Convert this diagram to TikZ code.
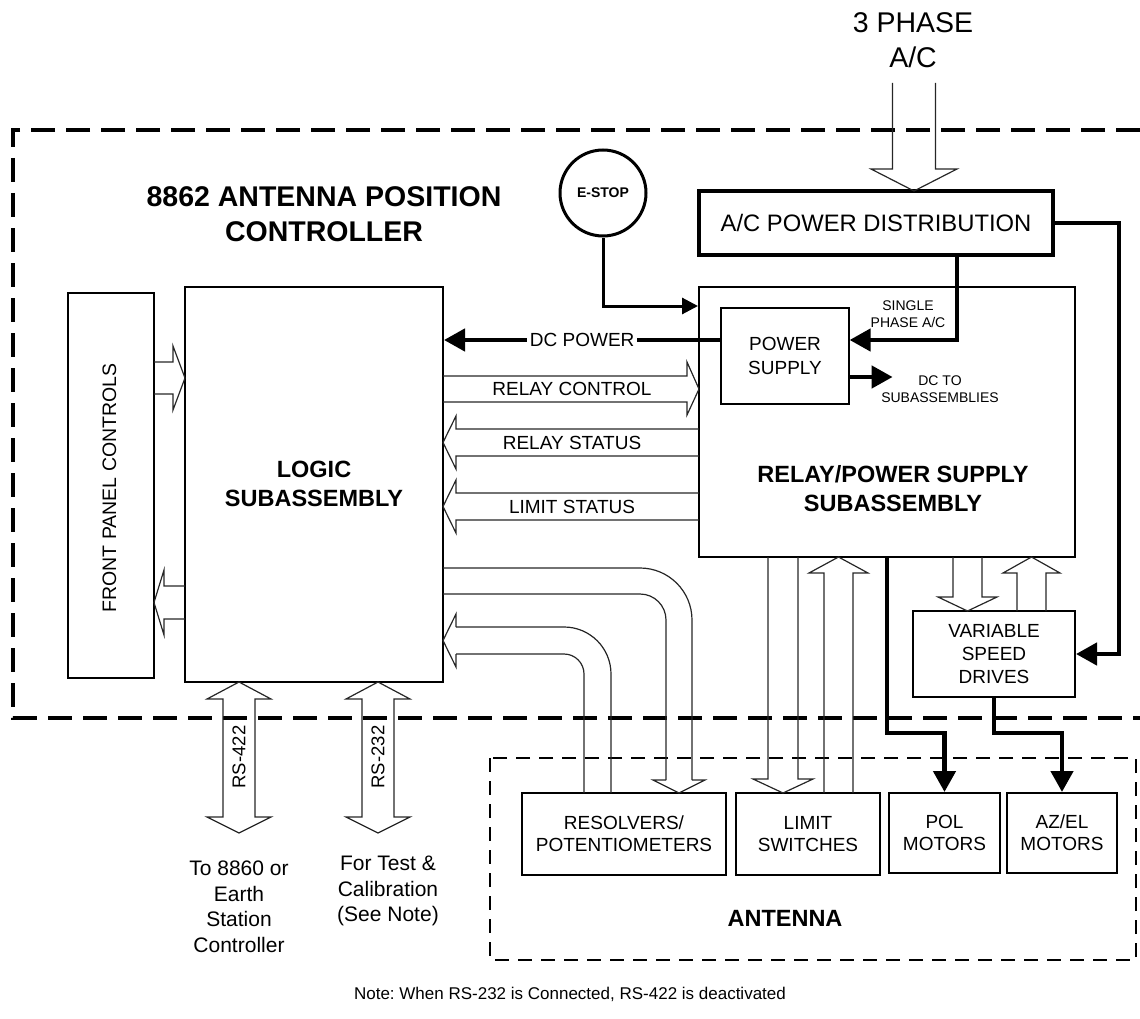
\documentclass[tikz,border=0pt]{standalone}
\usepackage{fontspec}
\setmainfont{Liberation Sans}
\usetikzlibrary{arrows.meta}
\newcommand{\fsz}[2]{\fontsize{#1}{#2}\selectfont}
\frenchspacing
\begin{document}
\begin{tikzpicture}[x=1pt,y=-1pt,
  box/.style={draw, line width=2pt, inner sep=0pt, align=center},
  hol/.style={draw=black!85, line width=1.2pt, line join=miter},
  pwr/.style={line width=4.5pt, -{Triangle[length=21pt,width=22pt]}},
  lbl/.style={inner sep=0pt, align=center},
  txt/.style={lbl, font=\fsz{19}{23}},
  btxt/.style={lbl, font=\bfseries\fsz{23.5}{29}}
]
\useasboundingbox (0,0) rectangle (1140,1019);

% enclosures
\draw[line width=3.5pt, dash pattern=on 24pt off 11pt] (1140,130) -- (13,130) -- (13,718) -- (1140,718);
\draw[line width=2pt, dash pattern=on 14pt off 9pt] (490,758) rectangle (1136,960);

% boxes
\node[box, line width=3.5pt, minimum width=354pt, minimum height=64pt, font=\fsz{23.8}{28}] (acpd) at (876,223) {A/C POWER DISTRIBUTION};
\node[box, minimum width=376pt, minimum height=270pt] (relay) at (887,422) {};
\node[box, line width=1.2pt, minimum width=128pt, minimum height=96pt, font=\fsz{19}{24}] (psu) at (785,356) {POWER\\SUPPLY};
\node[box, minimum width=258pt, minimum height=395pt] (logic) at (314,484.5) {};
\node[box, line width=2.5pt, minimum width=86pt, minimum height=385pt] (fpc) at (111,485.5) {};
\node[box, minimum width=162pt, minimum height=86pt, font=\fsz{19}{23}] (vsd) at (994,654) {VARIABLE\\SPEED\\DRIVES};
\node[box, minimum width=204pt, minimum height=82pt, font=\fsz{19}{22}] (res) at (624,834) {RESOLVERS/\\POTENTIOMETERS};
\node[box, minimum width=144pt, minimum height=82pt, font=\fsz{19}{22}] (lim) at (808,834) {LIMIT\\SWITCHES};
\node[box, minimum width=111pt, minimum height=80pt, font=\fsz{19}{22}] (pol) at (944.5,833) {POL\\MOTORS};
\node[box, minimum width=110pt, minimum height=80pt, font=\fsz{19}{22}] (azel) at (1062,833) {AZ/EL\\MOTORS};
\node[draw, circle, line width=3pt, minimum size=86pt, inner sep=0pt, font=\bfseries\fsz{14}{16}] (estop) at (603,193) {E-STOP};

% labels
\node[lbl, font=\fsz{28.5}{35}] (t3ph) at (913,40) {3 PHASE\\A/C};
\node[lbl, font=\bfseries\fsz{28.5}{35}] (ttl) at (324,214) {8862 ANTENNA POSITION\\CONTROLLER};
\node[btxt] (trel) at (893,489) {RELAY/POWER SUPPLY\\SUBASSEMBLY};
\node[btxt] (tlog) at (314,483.5) {LOGIC\\SUBASSEMBLY};
\node[btxt] (tant) at (785,918) {ANTENNA};
\node[lbl, font=\fsz{14}{17}] (tsp) at (908,314) {SINGLE\\PHASE A/C};
\node[lbl, font=\fsz{14}{17}] (tdc) at (940,389) {DC TO\\SUBASSEMBLIES};
\node[lbl, font=\fsz{19.5}{23}, rotate=90] (tfpc) at (109.5,488) {FRONT PANEL CONTROLS};
\node[lbl, font=\fsz{18.5}{22}, rotate=90] (t422) at (239,757) {RS-422};
\node[lbl, font=\fsz{18.5}{22}, rotate=90] (t232) at (378,757) {RS-232};
\node[lbl, font=\fsz{21}{25.5}] (tto) at (239,907) {To 8860 or\\Earth\\Station\\Controller};
\node[lbl, font=\fsz{21}{25.5}] (tfor) at (388,891) {For Test \&\\Calibration\\(See Note)};
\node[lbl, font=\fsz{17}{21}] (tnote) at (570,994) {Note: When RS-232 is Connected, RS-422 is deactivated};
\node[txt] (trc) at (572,389) {RELAY CONTROL};
\node[txt] (trs) at (572,442.5) {RELAY STATUS};
\node[txt] (tls) at (572,506.5) {LIMIT STATUS};

% hollow arrows
\draw[hol] (892.5,83) -- (892.5,169) -- (871,169) -- (914,191) -- (957,169) -- (935.5,169) -- (935.5,83);
\draw[hol] (443,376) -- (687,376) -- (687,362) -- (699,389) -- (687,415) -- (687,402) -- (443,402);
\draw[hol] (699,429) -- (456,429) -- (456,416) -- (443,442.5) -- (456,469) -- (456,456) -- (699,456);
\draw[hol] (699,493) -- (456,493) -- (456,480) -- (443,506.5) -- (456,533) -- (456,520) -- (699,520);
\draw[hol] (154,362) -- (173,362) -- (173,346) -- (185,378) -- (173,410) -- (173,394) -- (154,394);
\draw[hol] (185,586) -- (164,586) -- (164,570) -- (154,602.5) -- (164,635) -- (164,619) -- (185,619);
\draw[hol] (223,699) -- (207,699) -- (239,682) -- (271,699) -- (255,699) -- (255,817) -- (271,817) -- (239,833) -- (207,817) -- (223,817) -- cycle;
\draw[hol] (362,699) -- (346,699) -- (378,682) -- (410,699) -- (394,699) -- (394,817) -- (410,817) -- (378,833) -- (346,817) -- (362,817) -- cycle;
% curved to resolvers
\draw[hol, rounded corners=52pt] (443,568) -- (692,568) -- (692,780);
\draw[hol, rounded corners=26pt] (443,594) -- (666,594) -- (666,780);
\draw[hol] (692,780) -- (705,780) -- (679,793) -- (653,780) -- (666,780);
% curved from resolvers
\draw[hol, rounded corners=47pt] (611,793) -- (611,627) -- (456,627);
\draw[hol, rounded corners=20pt] (584,793) -- (584,654) -- (456,654);
\draw[hol] (456,627) -- (456,614) -- (443,640.5) -- (456,667) -- (456,654);
% limit switches
\draw[hol] (768,557) -- (768,779) -- (753,779) -- (783,793) -- (813,779) -- (798,779) -- (798,557);
\draw[hol] (824,793) -- (824,573) -- (809,573) -- (838.5,557) -- (868,573) -- (853,573) -- (853,793);
% relay <-> vsd
\draw[hol] (953,557) -- (953,597) -- (938,597) -- (967.5,611) -- (997,597) -- (982,597) -- (982,557);
\draw[hol] (1017,611) -- (1017,573) -- (1003,573) -- (1031.5,557) -- (1060,573) -- (1046,573) -- (1046,611);

% power connectors
\draw[pwr] (acpd.east) -- ++(64,0) |- (vsd.east);
\draw[pwr] (acpd.south -| 957,0) |- (psu.east |- 0,340);
\draw[pwr] (psu.west |- 0,340) -- node[fill=white, inner sep=2.5pt, font=\fsz{19}{23}] (tdcp) {DC POWER} (logic.east |- 0,340);
\draw[pwr] (psu.east |- 0,377) -- ++(43,0) coordinate (dcend);
\draw[line width=3pt, -{Triangle[length=16pt,width=16pt]}] (estop.south) |- (relay.west |- 0,306);
\draw[pwr] (relay.south -| 887,0) -- (887,733) -| (pol.north);
\draw[pwr] (vsd.south) -- (994,733) -| (azel.north);
\end{tikzpicture}
\end{document}
